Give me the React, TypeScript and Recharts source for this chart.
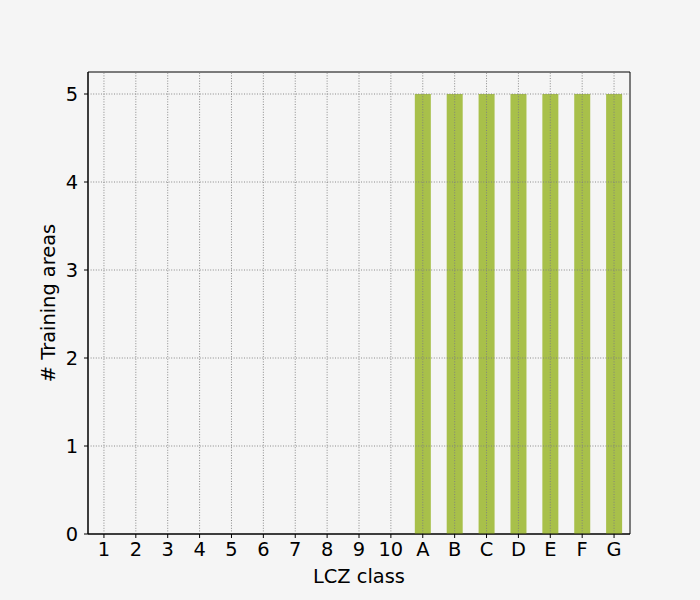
import React from 'react';
import { BarChart, Bar, XAxis, YAxis, ReferenceArea, ReferenceLine } from 'recharts';

const classes = ['1', '2', '3', '4', '5', '6', '7', '8', '9', '10', 'A', 'B', 'C', 'D', 'E', 'F', 'G'];
const trainingAreas = [0, 0, 0, 0, 0, 0, 0, 0, 0, 0, 5, 5, 5, 5, 5, 5, 5];
const yTicks = [0, 1, 2, 3, 4, 5];
const yMax = 5.25;

const data = classes.map((c, i) => ({ lcz: c, count: trainingAreas[i] }));

const font = 'DejaVu Sans, sans-serif';
const labelStyle = { fill: '#000', fontSize: 19.4, fontFamily: font };
const gridProps = { stroke: '#7f7f7f', strokeDasharray: '1 1.6', strokeWidth: 0.9 };

export default function App() {
    return (
        <div style={{ position: 'absolute', left: 0, top: 0, width: 700, height: 600, background: '#f5f5f5', fontFamily: font }}>
            <BarChart
                width={700}
                height={600}
                data={data}
                margin={{ top: 72, right: 70, bottom: 0, left: 0 }}
            >
                <Bar dataKey="count" fill="#a8c04a" barSize={16} isAnimationActive={false} />
                {/* grid drawn over the bars, like the matplotlib original */}
                {classes.map((c) => (
                    <ReferenceLine key={'x' + c} x={c} {...gridProps} />
                ))}
                {yTicks.filter((t) => t > 0).map((t) => (
                    <ReferenceLine key={'y' + t} y={t} {...gridProps} />
                ))}
                <ReferenceArea y1={0} y2={yMax} fill="none" stroke="#000" strokeWidth={1} ifOverflow="visible" />
                <XAxis
                    dataKey="lcz"
                    type="category"
                    stroke="#000"
                    fontSize={19.4}
                    fontFamily={font}
                    tick={{ fill: '#000' }}
                    tickSize={4}
                    tickMargin={4}
                    height={66}
                    interval={0}
                    label={{ value: 'LCZ class', position: 'insideBottom', offset: 17, style: labelStyle }}
                />
                <YAxis
                    domain={[0, yMax]}
                    ticks={yTicks}
                    stroke="#000"
                    fontSize={19.4}
                    fontFamily={font}
                    tick={{ fill: '#000' }}
                    tickSize={4}
                    tickMargin={6}
                    width={88}
                    allowDataOverflow
                    label={{ value: '# Training areas', angle: -90, position: 'insideLeft', offset: 48, style: { ...labelStyle, textAnchor: 'middle' } }}
                />
            </BarChart>
        </div>
    );
}
